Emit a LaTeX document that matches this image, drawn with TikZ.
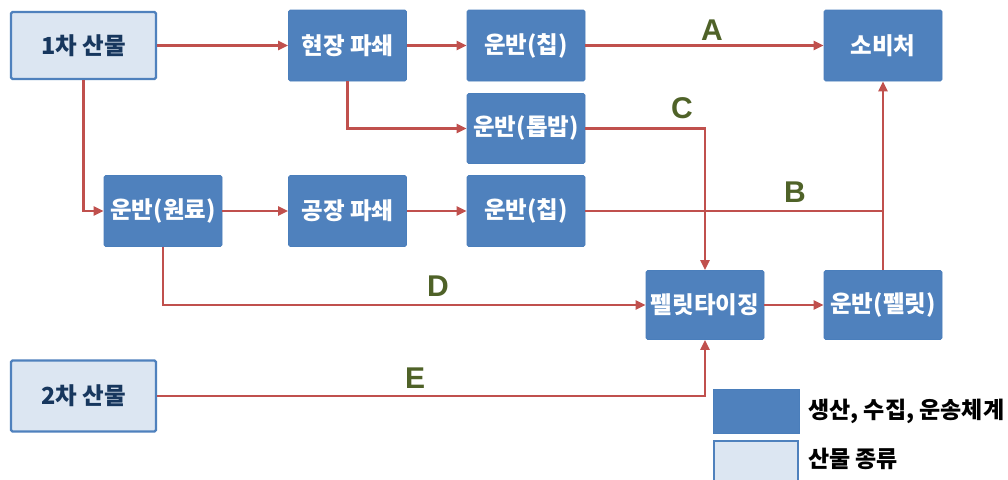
\documentclass[tikz,border=0pt]{standalone}
\usepackage{fontspec}
\setmainfont{Liberation Sans}
\newfontfamily\kr{Noto Sans CJK KR}
\usetikzlibrary{arrows.meta}
\definecolor{dkblue}{HTML}{4F81BD}
\definecolor{dkedge}{HTML}{4A7EBB}
\definecolor{ltblue}{HTML}{DCE6F2}
\definecolor{navy}{HTML}{17375E}
\definecolor{linered}{HTML}{C0504D}
\definecolor{lblgreen}{HTML}{4F6228}
\tikzset{
  dk/.style={rectangle, rounded corners=1.5pt, fill=dkblue, draw=dkedge, line width=0.6pt,
    minimum width=118pt, minimum height=71pt, inner sep=0pt, text=white,
    font=\kr\bfseries\fontsize{23.5}{26}\selectfont},
  lt/.style={rectangle, rounded corners=1.5pt, fill=ltblue, draw=dkblue, line width=2.2pt,
    minimum width=145pt, minimum height=67pt, inner sep=0pt, text=navy,
    font=\kr\bfseries\fontsize{23.5}{26}\selectfont},
  flow/.style={draw=linered, line width=2.4pt},
  arr/.style={flow, -{Triangle[length=10pt,width=9pt]}},
  lbl/.style={text=lblgreen, font=\bfseries\fontsize{30}{32}\selectfont, inner sep=0pt},
  legtxt/.style={anchor=west, inner sep=0pt, text=black, font=\kr\bfseries\fontsize{23}{25}\selectfont},
}
\begin{document}
\begin{tikzpicture}[x=1pt,y=-1pt]
\useasboundingbox (0,0) rectangle (1008,479);
\fill[white] (0,0) rectangle (1008,479);
% nodes
\node[lt] (p1) at (83.5,45.5) {1차 산물};
\node[dk] (hj) at (347.5,45.5) {현장 파쇄};
\node[dk] (c1) at (526,45.5) {운반(칩)};
\node[dk] (sb) at (883,45.5) {소비처};
\node[dk, minimum height=70pt] (tb) at (526,128.5) {운반(톱밥)};
\node[dk] (wr) at (163,211) {운반(원료)};
\node[dk] (gj) at (347.5,211) {공장 파쇄};
\node[dk] (c2) at (526,211) {운반(칩)};
\node[dk, minimum height=69pt] (pt) at (705,305) {펠릿타이징};
\node[dk, minimum height=69pt] (up) at (883,305) {운반(펠릿)};
\node[lt, minimum height=71pt] (p2) at (83.5,396) {2차 산물};
% helper coordinates
\coordinate (jB) at (883,211);
% connectors
\draw[arr] (p1) -- (hj);
\draw[arr] (hj) -- (c1);
\draw[arr] (c1) -- (sb);
\draw[arr] (hj.south) |- (tb.west);
\draw[arr] (tb.east) -| (pt.north);
\draw[arr] (p1.south) |- (wr.west);
\draw[arr] (wr) -- (gj);
\draw[arr] (gj) -- (c2);
\draw[flow] (c2.east) -- (jB);
\draw[arr] (up.north) -- (sb.south);
\draw[arr] (wr.south) |- (pt.west);
\draw[arr] (pt) -- (up);
\draw[arr] (p2.east) -| (pt.south);
% labels
\node[lbl] (lA) at (712,30) {A};
\node[lbl] (lC) at (682,108) {C};
\node[lbl] (lB) at (795,192) {B};
\node[lbl] (lD) at (438,286) {D};
\node[lbl] (lE) at (415,378) {E};
% legend
\node[rectangle, fill=dkblue, draw=dkedge, line width=0.6pt, minimum width=86pt, minimum height=44pt, inner sep=0pt] (leg1) at (756,411) {};
\node[rectangle, fill=ltblue, draw=dkblue, line width=2.2pt, minimum width=84pt, minimum height=46pt, inner sep=0pt] (leg2) at (756,464) {};
\node[legtxt] (legt1) at (808,411) {생산, 수집, 운송체계};
\node[legtxt] (legt2) at (808,459) {산물 종류};
\end{tikzpicture}
\end{document}
